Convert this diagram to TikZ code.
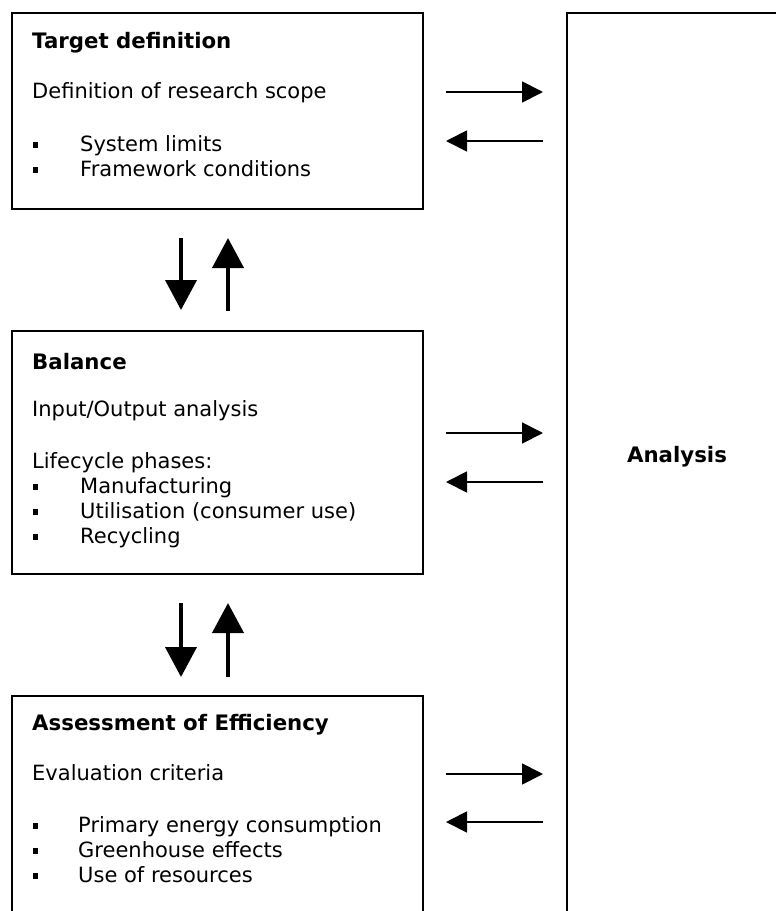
\documentclass[tikz,border=0pt]{standalone}
\usepackage{fontspec}
\setmainfont{DejaVu Sans}
\usetikzlibrary{arrows.meta}
\tikzset{
  box/.style={draw=black, line width=1.5pt, anchor=north west, inner sep=0pt},
  txt/.style={anchor=base west, inner sep=0pt, font=\fontsize{21}{24}\selectfont},
  head/.style={txt, font=\fontsize{21.3}{24}\selectfont\bfseries},
  bul/.style={fill=black, minimum size=5.5pt, inner sep=0pt},
  varrow/.style={line width=4pt, -{Triangle[length=30pt,width=31pt]}},
  harrow/.style={line width=1.8pt, -{Triangle[length=21pt,width=21pt]}}
}
\begin{document}
\begin{tikzpicture}[x=1pt,y=-1pt]
\useasboundingbox (0,0) rectangle (776,911);
\clip (0,0) rectangle (776,911);
% boxes
\node[box, minimum width=411pt, minimum height=196pt] (b1) at (11,12) {};
\node[box, minimum width=411pt, minimum height=243pt] (b2) at (11,330) {};
\node[box, minimum width=411pt, minimum height=300pt] (b3) at (11,695) {};
\node[box, minimum width=300pt, minimum height=1000pt] (an) at (566,12) {};
\node[font=\fontsize{21.3}{24}\selectfont\bfseries] (antext) at (677,457) {Analysis};
% box 1 text
\node[head] (t1) at (32,48) {Target definition};
\node[txt] (t1a) at (32,98) {Definition of research scope};
\node[bul] (t1b1) at (35.5,145) {};
\node[txt] (t1b) at (80,151) {System limits};
\node[bul] (t1c1) at (35.5,170) {};
\node[txt] (t1c) at (80,176) {Framework conditions};
% box 2 text
\node[head] (t2) at (32,369) {Balance};
\node[txt] (t2a) at (32,416) {Input/Output analysis};
\node[txt] (t2b) at (32,468) {Lifecycle phases:};
\node[bul] (t2c1) at (35.5,487) {};
\node[txt] (t2c) at (80,493) {Manufacturing};
\node[bul] (t2d1) at (35.5,512) {};
\node[txt] (t2d) at (80,518) {Utilisation (consumer use)};
\node[bul] (t2e1) at (35.5,537) {};
\node[txt] (t2e) at (80,543) {Recycling};
% box 3 text
\node[head] (t3) at (32,730) {Assessment of Efficiency};
\node[txt] (t3a) at (32,780) {Evaluation criteria};
\node[bul] (t3b1) at (35.5,826) {};
\node[txt] (t3b) at (78,832) {Primary energy consumption};
\node[bul] (t3c1) at (35.5,851) {};
\node[txt] (t3c) at (78,857) {Greenhouse effects};
\node[bul] (t3d1) at (35.5,876) {};
\node[txt] (t3d) at (78,882) {Use of resources};
% arrow coordinates
\coordinate (v1a) at (181,238); \coordinate (v1b) at (181,310);
\coordinate (v2a) at (228,311); \coordinate (v2b) at (228,238);
\coordinate (v3a) at (181,603); \coordinate (v3b) at (181,677);
\coordinate (v4a) at (228,677); \coordinate (v4b) at (228,603);
\coordinate (h1a) at (446,92);  \coordinate (h1b) at (543,92);
\coordinate (h2a) at (543,141); \coordinate (h2b) at (446,141);
\coordinate (h3a) at (446,433); \coordinate (h3b) at (543,433);
\coordinate (h4a) at (543,482); \coordinate (h4b) at (446,482);
\coordinate (h5a) at (446,774); \coordinate (h5b) at (543,774);
\coordinate (h6a) at (543,822); \coordinate (h6b) at (446,822);
\draw[varrow] (v1a) -- (v1b);
\draw[varrow] (v2a) -- (v2b);
\draw[varrow] (v3a) -- (v3b);
\draw[varrow] (v4a) -- (v4b);
\draw[harrow] (h1a) -- (h1b);
\draw[harrow] (h2a) -- (h2b);
\draw[harrow] (h3a) -- (h3b);
\draw[harrow] (h4a) -- (h4b);
\draw[harrow] (h5a) -- (h5b);
\draw[harrow] (h6a) -- (h6b);
\end{tikzpicture}
\end{document}
